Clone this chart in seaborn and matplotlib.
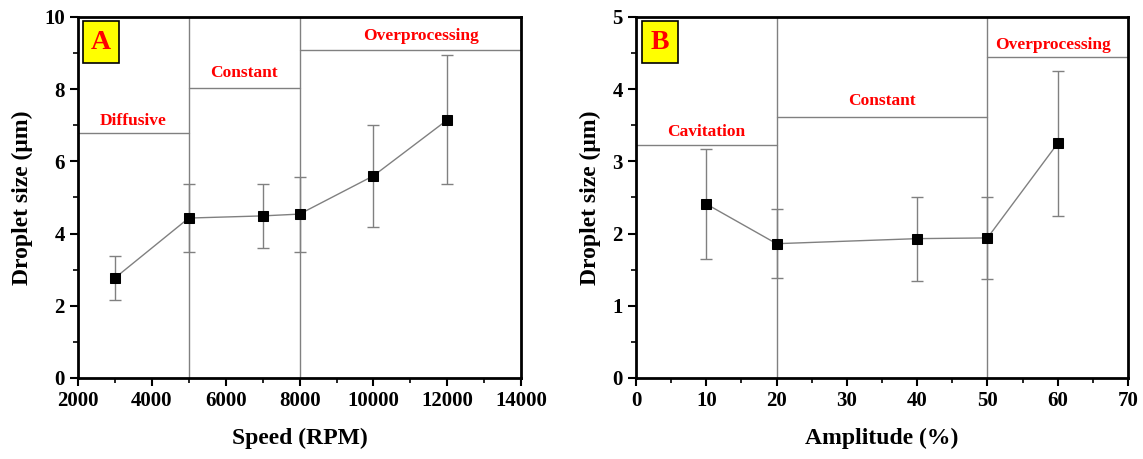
import matplotlib
matplotlib.use("Agg")
import matplotlib.pyplot as plt
import seaborn as sns
import pandas as pd

# Panel A data
speed = [3000, 5000, 7000, 8000, 10000, 12000]
size_a = [2.77, 4.43, 4.49, 4.54, 5.60, 7.15]
err_a = [0.62, 0.94, 0.88, 1.04, 1.41, 1.79]
regions_a = ["Diffusive", "Constant", "Overprocessing"]
region_a_x = [(2000, 5000), (5000, 8000), (8000, 14000)]
region_a_y = [6.79, 8.03, 9.09]
label_a_pos = [(3500, 7.12), (6500, 8.45), (11300, 9.47)]

# Panel B data
amp = [10, 20, 40, 50, 60]
size_b = [2.41, 1.86, 1.93, 1.94, 3.25]
err_b = [0.76, 0.48, 0.58, 0.57, 1.00]
regions_b = ["Cavitation", "Constant", "Overprocessing"]
region_b_x = [(0, 20), (20, 50), (50, 70)]
region_b_y = [3.23, 3.62, 4.45]
label_b_pos = [(10, 3.41), (35, 3.84), (59.3, 4.61)]

sns.set_theme(style="ticks")
plt.rcParams['font.family'] = ['Liberation Serif', 'DejaVu Serif']
plt.rcParams['font.weight'] = 'bold'
plt.rcParams['text.color'] = 'black'
plt.rcParams['axes.labelcolor'] = 'black'
plt.rcParams['xtick.color'] = 'black'
plt.rcParams['ytick.color'] = 'black'

fig = plt.figure(figsize=(11.43, 4.59), dpi=100)
axA = fig.add_axes([0.0682, 0.1765, 0.456 - 0.0682, 0.963 - 0.1765])
axB = fig.add_axes([0.5564, 0.1765, 0.9869 - 0.5564, 0.963 - 0.1765])

gray = "#808080"

def panel(ax, x, y, e, regions, rx, ry, lpos, xlim, ylim, xticks, yticks, xminor, yminor,
          xlabel, letter, letter_x):
    df = pd.DataFrame({"x": x, "y": y})
    ax.errorbar(x, y, yerr=e, fmt='none', ecolor=gray, elinewidth=1, capsize=4, capthick=1, zorder=2)
    sns.lineplot(data=df, x="x", y="y", ax=ax, color=gray, linewidth=1, marker='s',
                 markersize=6.5, markerfacecolor='black', markeredgecolor='black', zorder=3)
    ymax = ylim[1]
    for (x0, x1), yy in zip(rx, ry):
        ax.plot([x0, x1], [yy, yy], color=gray, lw=1, zorder=1)
    for (x0, x1) in rx[1:]:
        ax.plot([x0, x0], [ylim[0], ymax], color=gray, lw=1, zorder=1)
    for name, (tx, ty) in zip(regions, lpos):
        ax.text(tx, ty, name, color='red', fontsize=12.5, fontweight='bold', ha='center', va='center')
    ax.set_xlim(*xlim)
    ax.set_ylim(*ylim)
    ax.set_xticks(xticks)
    ax.set_yticks(yticks)
    ax.set_xticks(xminor, minor=True)
    ax.set_yticks(yminor, minor=True)
    ax.tick_params(which='major', direction='out', length=6, width=1.5, labelsize=15, colors='black')
    ax.tick_params(which='minor', direction='out', length=3.5, width=1.2, colors='black')
    for lab in ax.get_xticklabels() + ax.get_yticklabels():
        lab.set_fontweight('bold')
    for s in ax.spines.values():
        s.set_linewidth(2)
        s.set_color('black')
    ax.set_xlabel(xlabel, fontsize=17, fontweight='bold', labelpad=12, color='black')
    ax.set_ylabel("Droplet size (μm)", fontsize=17, fontweight='bold', labelpad=8, color='black')
    ax.text(letter_x, 0.93, letter, transform=ax.transAxes, color='red', fontsize=20,
            fontweight='bold', ha='center', va='center',
            bbox=dict(boxstyle='square,pad=0.3', facecolor='yellow', edgecolor='black', lw=1.2))

panel(axA, speed, size_a, err_a, regions_a, region_a_x, region_a_y, label_a_pos,
      (2000, 14000), (0, 10), list(range(2000, 14001, 2000)), list(range(0, 11, 2)),
      list(range(3000, 14000, 2000)), list(range(1, 10, 2)), "Speed (RPM)", "A", 0.052)
panel(axB, amp, size_b, err_b, regions_b, region_b_x, region_b_y, label_b_pos,
      (0, 70), (0, 5), list(range(0, 71, 10)), list(range(0, 6, 1)),
      list(range(5, 70, 10)), [0.5 + i for i in range(5)], "Amplitude (%)", "B", 0.049)

fig.savefig("out.png", dpi=100)
